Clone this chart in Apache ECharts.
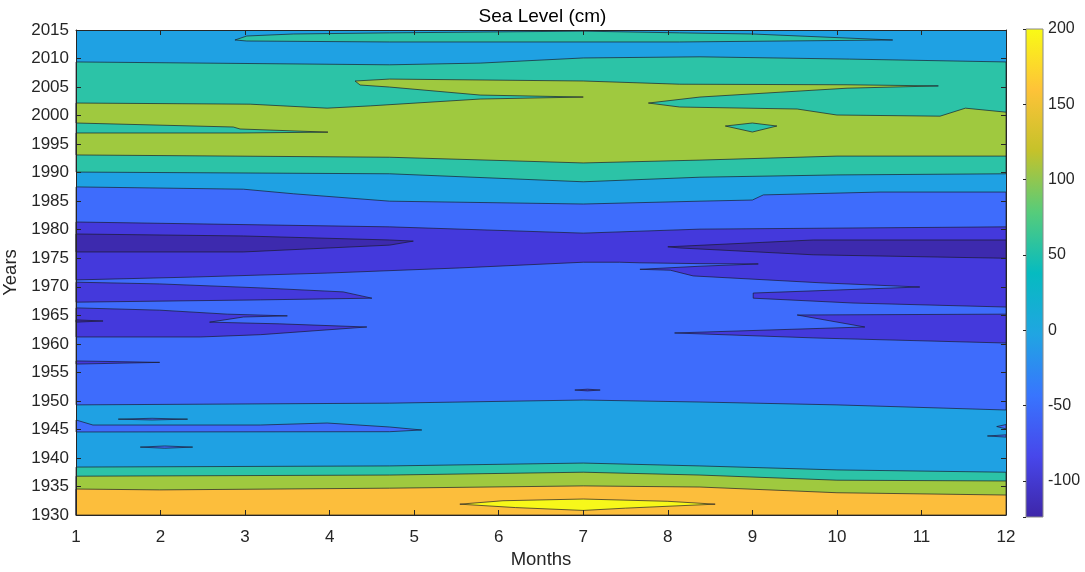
<!DOCTYPE html>
<html><head><meta charset="utf-8">
<script src="https://cdn.jsdelivr.net/npm/echarts@6/dist/echarts.min.js"></script>
<style>html,body{margin:0;padding:0;background:#fff}#c{width:1085px;height:572px}</style>
</head><body><div id="c"></div>
<script>
// ---- axes / ticks ----
const monthRange = [1, 12];
const yearRange = [1930, 2015];
const colorbarRange = [-124, 200];

// ---- band colours (parula levels) ----
const C = {navy:'#3D2AAE', purple:'#4439DC', blue:'#3E6CFC', lightBlue:'#1FA1E3',
           teal:'#2CC3A7', green:'#9FC93F', orange:'#FCBE3C', yellow:'#F7F81A'};
const parulaStops = ['#3E26A8','#4747EB','#3875FE','#20A5E2','#06BBC0','#57CC7A','#C5C22A','#FEC338','#F9FB15'];

// ---- contour boundaries: [month, year] ----
const bndLightBlueTeal2009 = [[1,2009.4],[4.71,2008.9],[5.78,2009.2],[7.0,2010.1],[8.38,2010.3],[10.15,2009.9],[12,2009.4]];
const bndTealLightBlue1989 = [[1,1990.1],[4.71,1989.8],[7.0,1988.4],[8.38,1989.2],[10.0,1989.6],[12,1989.8]];
const greenRegion = [[1,1993.1],[4.71,1992.7],[7.0,1991.7],[8.38,1992.2],[10.0,1992.9],[12,1992.9],
  [12,2000.6],[11.52,2001.3],[11.22,1999.9],[10.0,2000.1],[9.53,2001.15],[8.14,2001.5],[7.77,2002.2],
  [8.38,2003.25],[9.33,2004.1],[10.12,2004.8],[11.2,2005.2],
  [10.12,2005.4],[8.14,2005.5],[7.0,2006.06],[4.71,2006.4],[4.30,2006.06],
  [4.36,2005.36],[4.71,2005.0],[5.78,2003.6],[7.0,2003.25],
  [5.78,2002.9],[4.48,2001.7],[3.97,2001.3],[3.06,2002.0],[1,2002.2],
  [1,1998.7],[2.86,1998.0],[2.94,1997.65],[3.98,1997.1],[2.94,1996.95],[1,1996.95]];
const tealIsland1998 = [[8.68,1998.17],[9.0,1998.7],[9.29,1998.17],[9.0,1997.12]];
const tealIsland2013 = [[2.88,2013.25],[3.02,2013.95],[3.57,2014.3],[4.71,2014.5],[7.0,2014.8],[8.14,2014.5],[9.0,2014.3],[10.66,2013.25],[8.14,2012.9],[4.71,2012.9],[3.02,2013.07]];
const bndLightBlueBlue1986 = [[1,1987.5],[2.98,1987.1],[3.57,1986.3],[4.71,1985.0],[7.0,1984.5],[8.38,1985.0],[9.0,1985.2],[9.13,1986.1],[10.51,1986.6],[12,1986.6]];
const bndBlueLightBlue1949 = [[1,1949.3],[4.71,1949.6],[7.0,1950.15],[8.38,1949.8],[10.0,1949.3],[12,1948.4]];
const bndBluePurple1980 = [[1,1981.35],[4.71,1980.5],[7.0,1979.4],[8.38,1980.1],[12,1980.5]];
const bndPurpleBlue1972 = [[1,1971.2],[2.38,1971.7],[3.97,1972.4],[5.54,1973.3],[7.0,1974.3],[7.43,1974.3],[7.67,1974.2],[8.38,1974.05],[9.07,1974.0],[8.38,1973.6],[7.67,1973.06],[8.03,1972.9],[8.30,1971.9],[9.80,1970.7],[10.98,1969.96],[10.0,1969.43],[9.01,1968.9],[9.01,1968.0],[10.19,1967.15],[12,1966.45]];
const purpleRight1963 = [[9.53,1965.05],[12,1965.2],[12,1960.14],[9.80,1961.0],[8.08,1961.9],[10.33,1962.95]];
const purpleLeft1969 = [[1,1970.8],[1.99,1970.5],[3.18,1969.8],[4.16,1969.1],[4.50,1968.0],[3.18,1967.7],[1,1967.3]];
const purpleLeft1964 = [[1,1966.3],[1.99,1965.9],[2.79,1965.2],[3.50,1964.9],[2.98,1964.7],[2.58,1963.8],[3.41,1963.5],[4.44,1962.95],[3.18,1961.6],[2.47,1961.2],[1,1961.2]];
const purpleTongue1957 = [[1,1957.0],[1.99,1956.75],[1,1956.45]];
const purpleIsland1952 = [[6.90,1951.9],[7.05,1952.05],[7.2,1951.9],[7.05,1951.75]];
const navyLeft1977 = [[1,1979.25],[2.98,1978.9],[4.71,1978.2],[4.99,1978.0],[4.71,1977.3],[2.98,1976.1],[1,1976.1]];
const navyRight1977 = [[8.0,1977.0],[9.72,1978.2],[12,1978.2],[12,1975.0],[9.72,1975.6],[8.14,1976.8]];
const navySliver1964 = [[1,1964.2],[1.32,1964.0],[1,1963.8]];
const bndTealLightBlue1938 = [[1,1938.4],[4.71,1938.6],[7.0,1939.1],[8.38,1938.6],[10.0,1937.9],[12,1937.5]];
const bndGreenTeal1937 = [[1,1936.8],[4.71,1937.0],[7.0,1937.5],[8.38,1937.0],[10.0,1936.1],[12,1935.96]];
const bndOrangeGreen1934 = [[1,1934.55],[1.99,1934.4],[4.71,1934.7],[7.0,1935.1],[8.38,1934.9],[10.0,1933.9],[12,1933.5]];
const yellowIsland1932 = [[5.54,1931.9],[6.05,1932.5],[7.0,1932.8],[8.0,1932.4],[8.56,1931.9],[7.5,1931.2],[7.0,1930.8],[6.2,1931.3]];
const blueStrip1945 = [[1,1946.65],[1.20,1945.77],[3.18,1945.77],[3.97,1946.12],[4.71,1945.42],[5.09,1944.9],[4.71,1944.6],[1,1944.55]];
const blueIsland1947 = [[1.50,1946.8],[1.9,1946.95],[2.32,1946.8],[1.9,1946.65]];
const blueIsland1942 = [[1.76,1941.9],[2.05,1942.1],[2.38,1941.9],[2.05,1941.7]];
const blueWedge1945 = [[11.89,1945.5],[12,1945.85],[12,1945.1]];
const blueWedge1944 = [[11.78,1943.85],[12,1944.05],[12,1943.65]];

// ---- build layers (painter order) ----
const rev = a => a.slice().reverse();
const bottomCorners = [[12,1930],[1,1930]];
const fullRect = [[1,1930],[12,1930],[12,2015],[1,2015]];
const layers = [
  {pts: fullRect, color: C.lightBlue, noStroke: true},
  {pts: bndLightBlueTeal2009.concat(rev(bndTealLightBlue1989)), color: C.teal},
  {pts: greenRegion, color: C.green},
  {pts: tealIsland1998, color: C.teal},
  {pts: tealIsland2013, color: C.teal},
  {pts: bndLightBlueBlue1986.concat(rev(bndBlueLightBlue1949)), color: C.blue},
  {pts: bndBluePurple1980.concat(rev(bndPurpleBlue1972)), color: C.purple},
  {pts: purpleRight1963, color: C.purple},
  {pts: purpleLeft1969, color: C.purple},
  {pts: purpleLeft1964, color: C.purple},
  {pts: purpleTongue1957, color: C.purple},
  {pts: purpleIsland1952, color: C.purple},
  {pts: navyLeft1977, color: C.navy},
  {pts: navyRight1977, color: C.navy},
  {pts: navySliver1964, color: C.navy},
  {pts: bndTealLightBlue1938.concat(bottomCorners), color: C.teal},
  {pts: bndGreenTeal1937.concat(bottomCorners), color: C.green},
  {pts: bndOrangeGreen1934.concat(bottomCorners), color: C.orange},
  {pts: yellowIsland1932, color: C.yellow},
  {pts: blueStrip1945, color: C.blue},
  {pts: blueIsland1947, color: C.blue},
  {pts: blueIsland1942, color: C.blue},
  {pts: blueWedge1945, color: C.blue},
  {pts: blueWedge1944, color: C.blue}
];

const FONT = "'Liberation Sans', Arial, Helvetica, sans-serif";
const AX = '#262626';
const lineColor = 'rgba(25,25,40,0.85)';

const chart = echarts.init(document.getElementById('c'), null, {renderer: 'canvas'});
const axisCommon = {
  type: 'value', splitLine: {show: false},
  axisLine: {show: true, lineStyle: {color: AX, width: 1}},
  axisTick: {show: true, inside: true, length: 5, lineStyle: {color: AX}},
  z: 10
};
chart.setOption({
  animation: false,
  backgroundColor: '#fff',
  title: {text: 'Sea Level (cm)', left: 'center', top: 2,
    textStyle: {fontFamily: FONT, fontSize: 19, fontWeight: 'normal', color: '#000'}},
  grid: [
    {left: 76, top: 30, width: 930, height: 485, containLabel: false, outerBoundsMode: 'none'},
    {left: 1026, top: 29, width: 17, height: 488, containLabel: false, outerBoundsMode: 'none'}
  ],
  xAxis: [
    Object.assign({}, axisCommon, {gridIndex: 0, position: 'bottom', min: monthRange[0], max: monthRange[1], interval: 1,
      axisLabel: {fontFamily: FONT, fontSize: 17, color: AX, margin: 14, formatter: v => String(v)},
      name: 'Months', nameLocation: 'middle', nameGap: 31,
      nameTextStyle: {fontFamily: FONT, fontSize: 18.5, color: AX}}),
    Object.assign({}, axisCommon, {gridIndex: 0, position: 'top', min: monthRange[0], max: monthRange[1], interval: 1,
      axisLabel: {show: false}}),
    {gridIndex: 1, type: 'value', min: 0, max: 1, show: false}
  ],
  yAxis: [
    Object.assign({}, axisCommon, {gridIndex: 0, position: 'left', min: yearRange[0], max: yearRange[1], interval: 5,
      axisLabel: {fontFamily: FONT, fontSize: 17, color: AX, margin: 7, formatter: v => String(v)},
      name: 'Years', nameLocation: 'middle', nameGap: 52,
      nameTextStyle: {fontFamily: FONT, fontSize: 18.5, color: AX}}),
    Object.assign({}, axisCommon, {gridIndex: 0, position: 'right', min: yearRange[0], max: yearRange[1], interval: 5,
      axisLabel: {show: false}}),
    {gridIndex: 1, type: 'value', position: 'right', min: colorbarRange[0], max: colorbarRange[1],
      splitLine: {show: false}, z: 10,
      axisLine: {show: false},
      axisTick: {show: true, inside: true, length: 3, lineStyle: {color: AX}},
      axisLabel: {fontFamily: FONT, fontSize: 16, color: AX, margin: 5,
        formatter: v => (Math.abs(v % 50) < 1e-9 ? String(v) : '')}}
  ],
  series: [
    {
      type: 'custom', coordinateSystem: 'cartesian2d', xAxisIndex: 0, yAxisIndex: 0,
      silent: true, z: 2,
      data: layers.map((l, i) => [monthRange[0], yearRange[0], i]),
      renderItem: (params, api) => {
        const l = layers[params.dataIndex];
        return {
          type: 'polygon',
          shape: {points: l.pts.map(p => api.coord(p))},
          style: {fill: l.color, stroke: l.noStroke ? null : lineColor, lineWidth: 0.8, lineJoin: 'round'}
        };
      }
    },
    {
      type: 'custom', coordinateSystem: 'cartesian2d', xAxisIndex: 2, yAxisIndex: 2,
      silent: true, z: 2,
      data: [[0, colorbarRange[0], 1, colorbarRange[1]]],
      renderItem: (params, api) => {
        const p0 = api.coord([api.value(0), api.value(3)]);
        const p1 = api.coord([api.value(2), api.value(1)]);
        const stops = parulaStops.map((c, i) => ({offset: 1 - i / (parulaStops.length - 1), color: c}));
        return {
          type: 'rect',
          shape: {x: p0[0], y: p0[1], width: p1[0] - p0[0], height: p1[1] - p0[1]},
          style: {fill: new echarts.graphic.LinearGradient(0, 0, 0, 1, stops), stroke: '#8a8a8a', lineWidth: 1}
        };
      }
    }
  ]
});
</script>
</body></html>
